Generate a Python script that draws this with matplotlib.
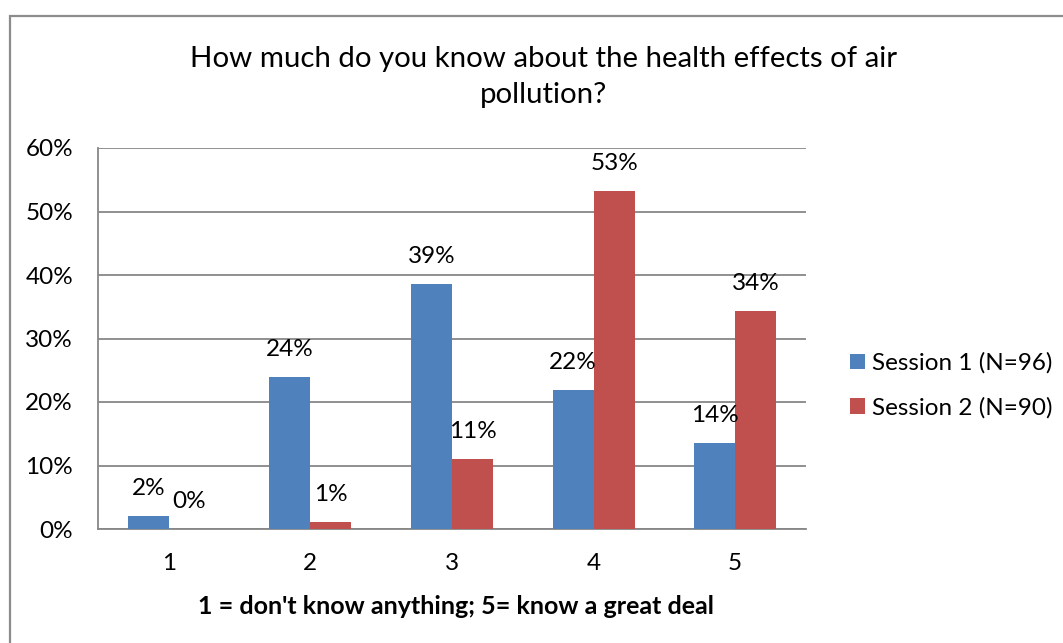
import matplotlib
matplotlib.use("Agg")
import matplotlib.pyplot as plt
from matplotlib.patches import Rectangle
from matplotlib.ticker import PercentFormatter, MultipleLocator
import numpy as np

# ---- data ----
categories = ["1", "2", "3", "4", "5"]
session1 = [2.1, 24.0, 38.6, 21.9, 13.6]   # percent, N=96
session2 = [0.0, 1.1, 11.1, 53.3, 34.4]    # percent, N=90
series_names = ["Session 1 (N=96)", "Session 2 (N=90)"]
title = "How much do you know about the health effects of air\npollution?"
xlabel = "1 = don't know anything; 5= know a great deal"

# ---- style ----
W, H, DPI = 1063, 643, 100
plt.rcParams["font.family"] = ["Lato", "DejaVu Sans"]
BLUE = "#4F81BD"
RED = "#C0504D"
GRID = "#878787"
FS = 17.5

fig = plt.figure(figsize=(W / DPI, H / DPI), dpi=DPI)
fig.patch.set_facecolor("white")

# chart border (extends past right and bottom edges, as in the reference)
fig.add_artist(Rectangle((10 / W, -0.1), 1.2, 1 - 16 / H + 0.1,
                         transform=fig.transFigure, fill=False,
                         edgecolor="#8c8c8c", linewidth=1.6, clip_on=False))

ax = fig.add_axes([98 / W, 1 - 529 / H, (806 - 98) / W, (529 - 148) / H])

x = np.arange(len(categories))
bw = 0.29
b1 = ax.bar(x - bw / 2, session1, bw, color=BLUE, label=series_names[0], zorder=3)
b2 = ax.bar(x + bw / 2, session2, bw, color=RED, label=series_names[1], zorder=3)

for xs, vals in ((x - bw / 2, session1), (x + bw / 2, session2)):
    for xi, v in zip(xs, vals):
        ax.annotate(f"{v:.0f}%", (xi, v), xytext=(0, 19.5),
                    textcoords="offset points", ha="center", va="center",
                    fontsize=FS, color="black", zorder=4)

ax.set_xlim(-0.5, len(categories) - 0.5)
ax.set_ylim(0, 60)
ax.yaxis.set_major_locator(MultipleLocator(10))
ax.yaxis.set_major_formatter(PercentFormatter(xmax=100, decimals=0))
ax.set_xticks(x)
ax.set_xticklabels(categories)
ax.tick_params(axis="both", length=0, labelsize=FS, colors="black")
ax.tick_params(axis="y", pad=18)
ax.tick_params(axis="x", pad=17)

ax.grid(axis="y", color=GRID, linewidth=1.3, zorder=0)
ax.set_axisbelow(True)
for s in ("top", "right"):
    ax.spines[s].set_visible(False)
for s in ("left", "bottom"):
    ax.spines[s].set_color(GRID)
    ax.spines[s].set_linewidth(1.3)

ax.set_xlabel(xlabel, fontsize=18, fontweight="bold", va="center")
ax.xaxis.set_label_coords(0.505, -78 / 381)

fig.text(544 / W, 1 - 77 / H, title, ha="center", va="center",
         fontsize=21.2, linespacing=1.45)

leg = fig.legend(handles=[b1, b2], labels=series_names,
                 loc="center left", bbox_to_anchor=(850 / W, 1 - 385.5 / H),
                 frameon=False, fontsize=FS, handlelength=0.62,
                 handleheight=0.62, handletextpad=0.3, labelspacing=0.95,
                 borderpad=0, borderaxespad=0)

fig.savefig("out.png", dpi=DPI, facecolor="white")
